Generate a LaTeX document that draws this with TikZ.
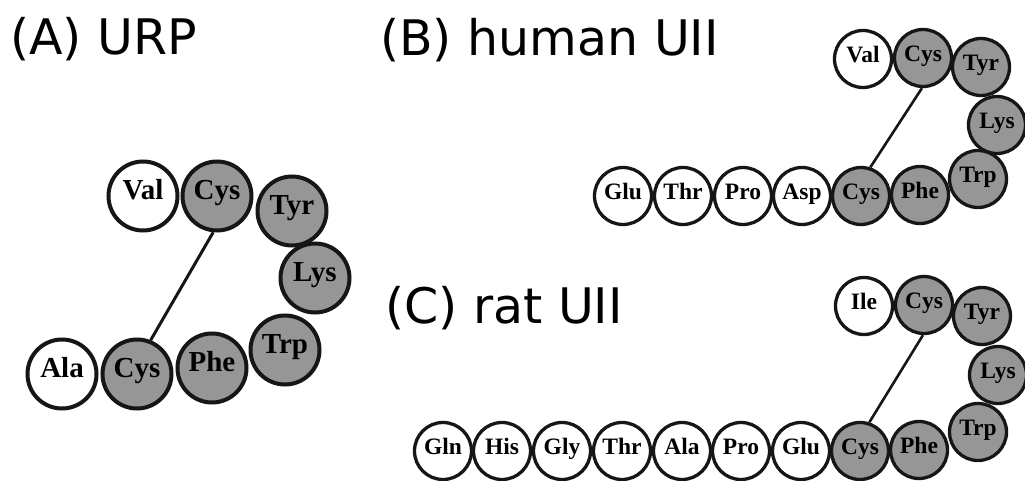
\documentclass[tikz,border=0pt]{standalone}
\usepackage{fontspec}
\setmainfont{DejaVu Sans}
\newfontfamily\resfont{Liberation Serif}
\definecolor{resgray}{RGB}{150,150,150}
\definecolor{resline}{RGB}{22,22,22}
\begin{document}
\begin{tikzpicture}[x=1pt,y=-1pt,
  res/.style={circle, draw=resline, inner sep=0pt, text=black,
    text height=0.64em, text depth=0pt},
  resA/.style={res, line width=4pt, minimum size=69pt,
    font=\resfont\bfseries\fontsize{29}{29}\selectfont},
  resB/.style={res, line width=3.3pt, minimum size=57pt,
    font=\resfont\bfseries\fontsize{23.5}{23.5}\selectfont},
  openres/.style={fill=white},
  greyres/.style={fill=resgray},
  bondA/.style={draw=resline, line width=3pt},
  bondB/.style={draw=resline, line width=2.6pt},
  paneltitle/.style={anchor=base west, inner sep=0pt,
    font=\fontsize{49}{49}\selectfont}]
\useasboundingbox (0,0) rectangle (1025,481);

% panel titles
\node[paneltitle] (tA) at (10,55)  {(A) URP};
\node[paneltitle] (tB) at (380,56) {(B) human UII};
\node[paneltitle] (tC) at (385,323) {(C) rat UII};

% (A) URP
\node[resA,openres] (aVal)  at (143,196) {Val};
\node[resA,greyres] (aCysT) at (217,196) {Cys};
\node[resA,greyres] (aTyr)  at (292,211) {Tyr};
\node[resA,greyres] (aLys)  at (315,278) {Lys};
\node[resA,greyres] (aTrp)  at (285,350) {Trp};
\node[resA,greyres] (aPhe)  at (212,368) {Phe};
\node[resA,greyres] (aCysB) at (137,374) {Cys};
\node[resA,openres] (aAla)  at (62,374)  {Ala};
\draw[bondA] (aCysT.-96) -- (aCysB.68);

% (B) human UII
\node[resB,openres] (bVal)  at (863,59)  {Val};
\node[resB,greyres] (bCysT) at (923,58)  {Cys};
\node[resB,greyres] (bTyr)  at (981,67)  {Tyr};
\node[resB,greyres] (bLys)  at (997,125) {Lys};
\node[resB,greyres] (bTrp)  at (978,179) {Trp};
\node[resB,greyres] (bPhe)  at (920,195) {Phe};
\node[resB,greyres] (bCysB) at (861,196) {Cys};
\node[resB,openres] (bAsp)  at (802,196) {Asp};
\node[resB,openres] (bPro)  at (743,196) {Pro};
\node[resB,openres] (bThr)  at (683,196) {Thr};
\node[resB,openres] (bGlu)  at (623,196) {Glu};
\draw[bondB] (bCysT.-92) -- (bCysB.72);

% (C) rat UII
\node[resB,openres] (cIle)  at (864,306) {Ile};
\node[resB,greyres] (cCysT) at (924,305) {Cys};
\node[resB,greyres] (cTyr)  at (982,316) {Tyr};
\node[resB,greyres] (cLys)  at (998,375) {Lys};
\node[resB,greyres] (cTrp)  at (978,432) {Trp};
\node[resB,greyres] (cPhe)  at (919,450) {Phe};
\node[resB,greyres] (cCysB) at (860,451) {Cys};
\node[resB,openres] (cGlu)  at (801,451) {Glu};
\node[resB,openres] (cPro)  at (741,451) {Pro};
\node[resB,openres] (cAla)  at (682,451) {Ala};
\node[resB,openres] (cThr)  at (622,451) {Thr};
\node[resB,openres] (cGly)  at (562,451) {Gly};
\node[resB,openres] (cHis)  at (502,451) {His};
\node[resB,openres] (cGln)  at (443,451) {Gln};
\draw[bondB] (cCysT.-92) -- (cCysB.72);
\end{tikzpicture}
\end{document}
